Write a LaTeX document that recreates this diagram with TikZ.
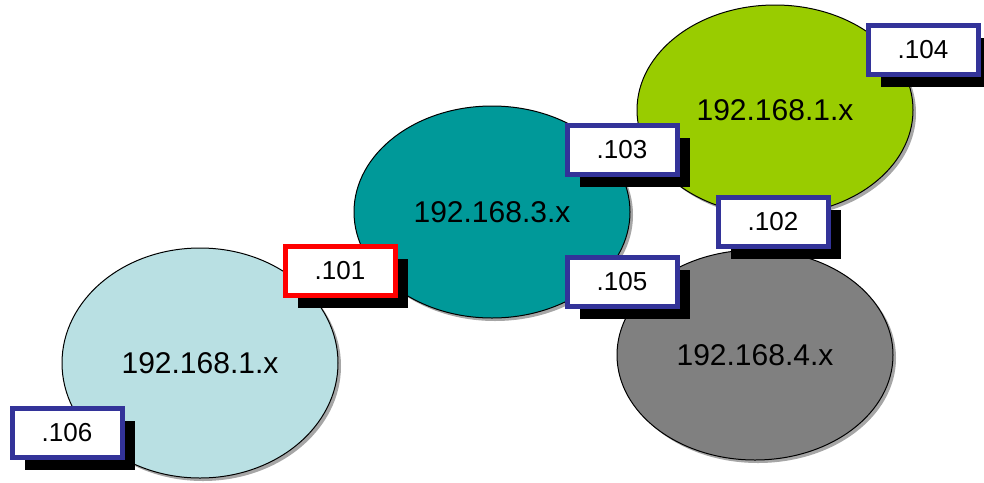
\documentclass[tikz,border=0pt]{standalone}
\usepackage{fontspec}
\setmainfont{Liberation Sans}
\usetikzlibrary{shapes.geometric,shadows}
\definecolor{netpale}{HTML}{B9E0E3}
\definecolor{netteal}{HTML}{009999}
\definecolor{netlime}{HTML}{99CC00}
\definecolor{netgrey}{HTML}{808080}
\definecolor{portline}{HTML}{333399}
\definecolor{gwline}{HTML}{FF0000}
\tikzset{
  net/.style={ellipse, draw=black, line width=0.5pt, minimum width=138pt, minimum height=105pt, inner sep=0pt,
    font=\fontsize{15}{18}\selectfont,
    drop shadow={shadow xshift=1.5pt, shadow yshift=-1.5pt, fill=black!35, opacity=1}},
  port/.style={draw=portline, fill=white, line width=2.5pt, minimum width=55pt, minimum height=24.5pt, inner sep=0pt,
    font=\fontsize{13}{15}\selectfont,
    drop shadow={shadow xshift=6.25pt, shadow yshift=-6.25pt, fill=black, opacity=1}},
  gateway/.style={port, draw=gwline},
}

\begin{document}
\begin{tikzpicture}[x=0.5pt, y=-0.5pt]
    \useasboundingbox (0,0) rectangle (984,482);
    % networks
    \node[net, fill=netpale, minimum height=115pt] (lanA) at (200,363) {192.168.1.x};
    \node[net, fill=netteal, minimum height=106pt] (lanB) at (492,212) {192.168.3.x};
    \node[net, fill=netlime] (lanC) at (775,110) {192.168.1.x};
    \node[net, fill=netgrey] (lanD) at (755,355) {192.168.4.x};
    % interfaces
    \node[gateway] (if101) at (340,271) {.101};
    \node[port] (if103) at (622,150) {.103};
    \node[port] (if105) at (622,282) {.105};
    \node[port] (if102) at (773,222) {.102};
    \node[port] (if104) at (923,50) {.104};
    \node[port] (if106) at (67,433) {.106};
  \end{tikzpicture}
\end{document}
